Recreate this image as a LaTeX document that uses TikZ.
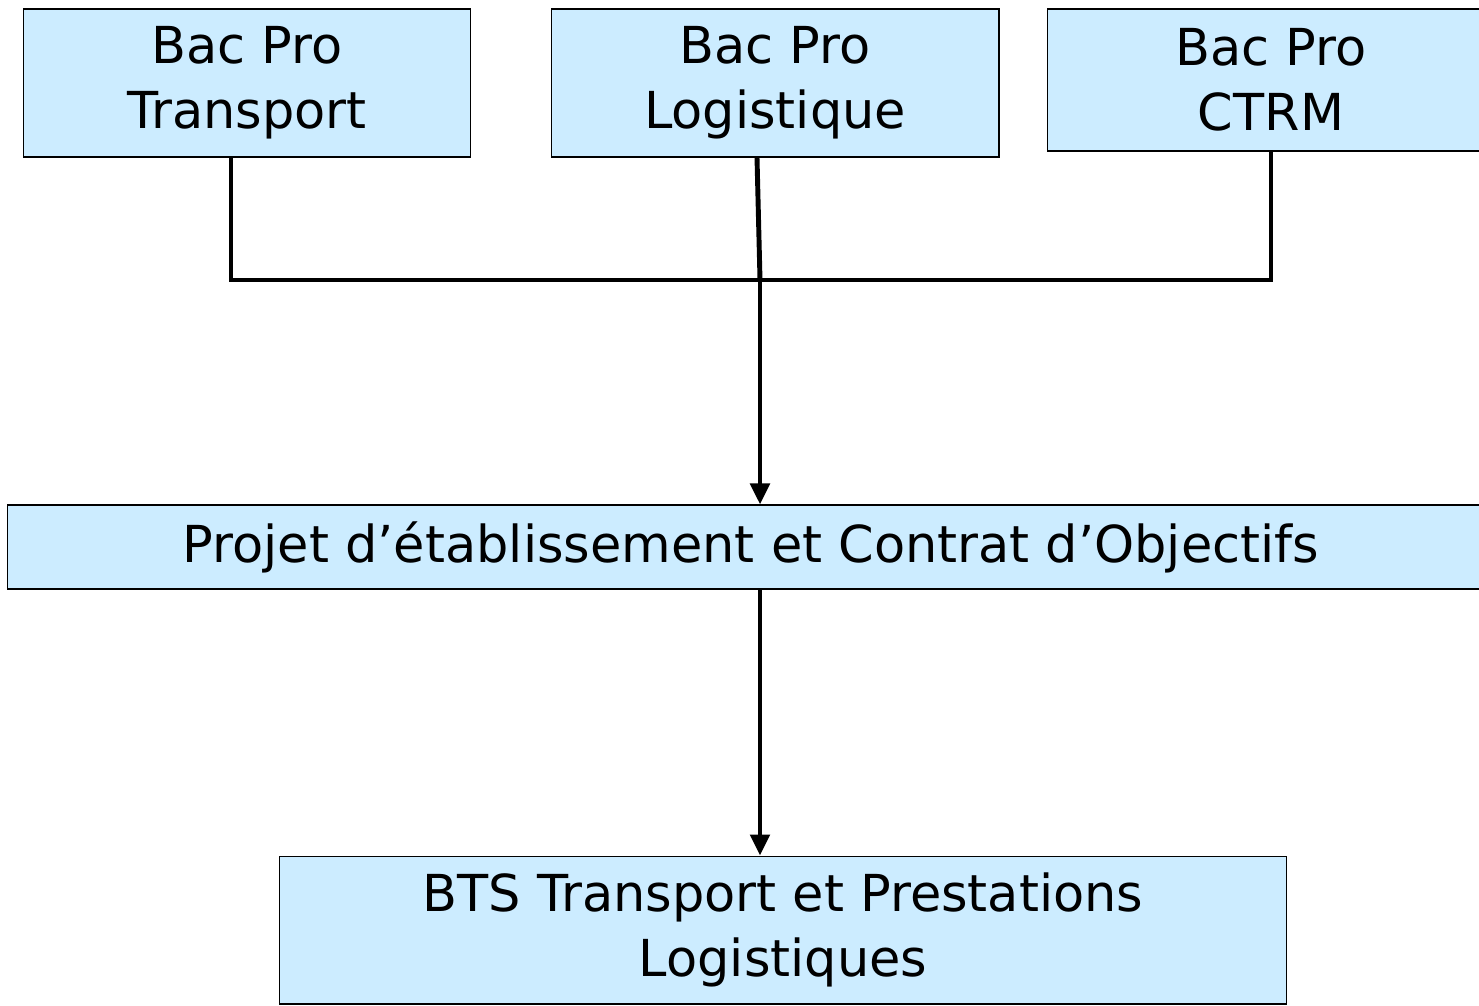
\documentclass[tikz,border=0pt]{standalone}
\usepackage{fontspec}
\setmainfont{DejaVu Sans}
\usetikzlibrary{arrows.meta}
\definecolor{boxblue}{HTML}{CCECFF}
\tikzset{
  filiere/.style={draw, fill=boxblue, line width=0.6pt, align=center,
    inner sep=0pt, font=\fontsize{29}{37}\selectfont},
  lien/.style={line width=2.8pt},
  fleche/.style={lien, -{Triangle[length=0.42cm,width=0.38cm]}}
}
\begin{document}
\begin{tikzpicture}[x=0.02cm, y=-0.02cm]
  \useasboundingbox (0,0) rectangle (1479,1005);
  % bacs pro
  \node[filiere, minimum width=8.96cm, minimum height=2.96cm] (transport) at (247,83) {Bac Pro\\Transport};
  \node[filiere, minimum width=8.96cm, minimum height=2.96cm] (logistique) at (775,83) {Bac Pro\\Logistique};
  \node[filiere, minimum width=8.96cm, minimum height=2.84cm] (ctrm) at (1271,80) {Bac Pro\\CTRM};
  % projet
  \node[filiere, minimum width=29.76cm, minimum height=1.68cm] (projet) at (751,547) {Projet d’établissement et Contrat d’Objectifs};
  % bts
  \node[filiere, minimum width=20.16cm, minimum height=2.96cm] (bts) at (783,930) {BTS Transport et Prestations\\Logistiques};
  \coordinate (jonction) at (760,280);
  \draw[lien] (transport.south -| 231,0) |- (jonction);
  \draw[lien] (ctrm.south) |- (jonction);
  \draw[lien] (logistique.south -| 757,0) -- (jonction);
  \draw[fleche] (jonction) -- (projet.north -| jonction);
  \draw[fleche] (projet.south -| jonction) -- (bts.north -| jonction);
\end{tikzpicture}
\end{document}
